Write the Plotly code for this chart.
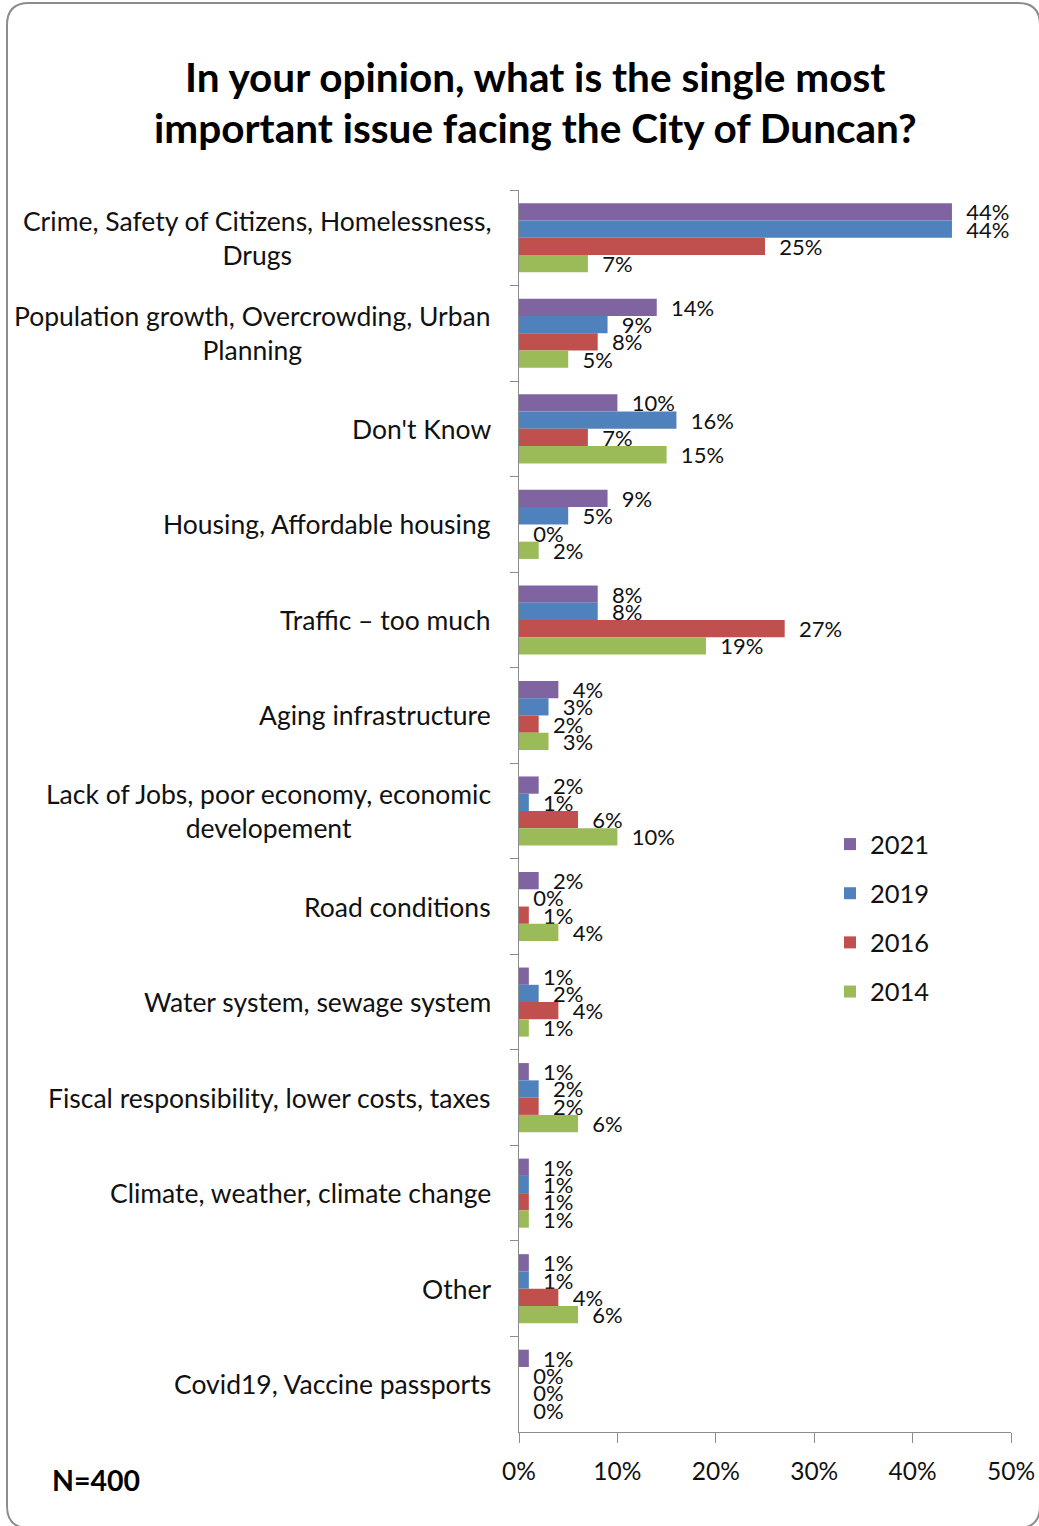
import plotly.graph_objects as go

# Survey question and responses (share of respondents)
title_lines = [
    "In your opinion, what is the single most",
    "important issue facing the City of Duncan?",
]

categories = [
    "Crime, Safety of Citizens, Homelessness,<br>Drugs",
    "Population growth, Overcrowding, Urban<br>Planning",
    "Don't Know",
    "Housing, Affordable housing",
    "Traffic \u2013 too much",
    "Aging infrastructure",
    "Lack of Jobs, poor economy, economic<br>developement",
    "Road conditions",
    "Water system, sewage system",
    "Fiscal responsibility, lower costs, taxes",
    "Climate, weather, climate change",
    "Other",
    "Covid19, Vaccine passports",
]

years = ["2021", "2019", "2016", "2014"]

values_2021 = [0.44, 0.14, 0.10, 0.09, 0.08, 0.04, 0.02, 0.02, 0.01, 0.01, 0.01, 0.01, 0.01]
values_2019 = [0.44, 0.09, 0.16, 0.05, 0.08, 0.03, 0.01, 0.00, 0.02, 0.02, 0.01, 0.01, 0.00]
values_2016 = [0.25, 0.08, 0.07, 0.00, 0.27, 0.02, 0.06, 0.01, 0.04, 0.02, 0.01, 0.04, 0.00]
values_2014 = [0.07, 0.05, 0.15, 0.02, 0.19, 0.03, 0.10, 0.04, 0.01, 0.06, 0.01, 0.06, 0.00]

series = [values_2021, values_2019, values_2016, values_2014]
colors = ["#8064A2", "#4F81BD", "#C0504D", "#9BBB59"]

x_ticks = [0, 0.1, 0.2, 0.3, 0.4, 0.5]
sample_note = "N=400"

FONT = "Lato"
W, H = 1039, 1526
L, R, T, B = 519, 28, 190, 94
PW, PH = W - L - R, H - T - B


def px_x(p):
    return (p - L) / PW


def px_y(p):
    return (H - B - p) / PH


fig = go.Figure()
for year, vals, col in zip(years, series, colors):
    fig.add_trace(go.Bar(
        name=year,
        y=categories,
        x=vals,
        orientation="h",
        marker=dict(color=col, line=dict(width=0)),
        texttemplate="\u00a0\u00a0%{x:.0%}",
        textposition="outside",
        textfont=dict(family=FONT, size=22, color="#111111"),
        constraintext="none",
        cliponaxis=False,
        legendgroup=year,
        hoverinfo="skip",
    ))

# category labels: centred lines, right-aligned block beside the axis
annotations = []
for cat in categories:
    annotations.append(dict(
        x=0, xref="x", y=cat, yref="y",
        text=cat, showarrow=False,
        xanchor="right", yanchor="middle", align="center",
        xshift=-26,
        font=dict(family=FONT, size=26.5, color="#111111"),
    ))

# title lines
for line, ypix in zip(title_lines, [76, 127]):
    annotations.append(dict(
        x=px_x(535), xref="paper", y=px_y(ypix), yref="paper",
        text="<b>" + line + "</b>", showarrow=False,
        xanchor="center", yanchor="middle",
        font=dict(family=FONT, size=40.5, color="#000000"),
    ))

annotations.append(dict(
    x=px_x(50), xref="paper", y=px_y(1480), yref="paper",
    text="<b>" + sample_note + "</b>", showarrow=False,
    xanchor="left", yanchor="middle",
    font=dict(family=FONT, size=28.5, color="#000000"),
))

# rounded outer frame
x0, x1 = px_x(7), px_x(1040)
y0, y1 = px_y(3), px_y(1528)
rx, ry = 22 / PW, 22 / PH
frame = (
    f"M {x0 + rx},{y0} L {x1 - rx},{y0} Q {x1},{y0} {x1},{y0 - ry} "
    f"L {x1},{y1 + ry} Q {x1},{y1} {x1 - rx},{y1} "
    f"L {x0 + rx},{y1} Q {x0},{y1} {x0},{y1 + ry} "
    f"L {x0},{y0 - ry} Q {x0},{y0} {x0 + rx},{y0} Z"
)

fig.update_layout(
    width=W, height=H,
    margin=dict(l=L, r=R, t=T, b=B, pad=0, autoexpand=False),
    paper_bgcolor="white", plot_bgcolor="white",
    barmode="group", bargap=0.277, bargroupgap=0,
    showlegend=True,
    legend=dict(
        x=px_x(830), xanchor="left", y=px_y(821), yanchor="top",
        font=dict(family=FONT, size=25.5, color="#111111"),
        tracegroupgap=13, traceorder="grouped",
        bgcolor="rgba(0,0,0,0)",
    ),
    annotations=annotations,
    shapes=[dict(type="path", xref="paper", yref="paper", path=frame,
                 line=dict(color="#8C8C8C", width=2), layer="above")],
    font=dict(family=FONT),
)

fig.update_xaxes(
    range=[0, 0.5], tickvals=x_ticks, tickformat=".0%",
    showgrid=False, zeroline=False, automargin=False,
    showline=True, linecolor="#8C8C8C", linewidth=1,
    ticks="outside", ticklen=10, tickcolor="#8C8C8C",
    ticklabelstandoff=8,
    tickfont=dict(family=FONT, size=24.5, color="#111111"),
)
fig.update_yaxes(
    autorange="reversed", type="category", automargin=False,
    showgrid=False, zeroline=False,
    showline=True, linecolor="#8C8C8C", linewidth=1,
    ticks="outside", ticklen=8, tickcolor="#8C8C8C",
    tickson="boundaries", showticklabels=False,
)

fig.write_html("out.html")
